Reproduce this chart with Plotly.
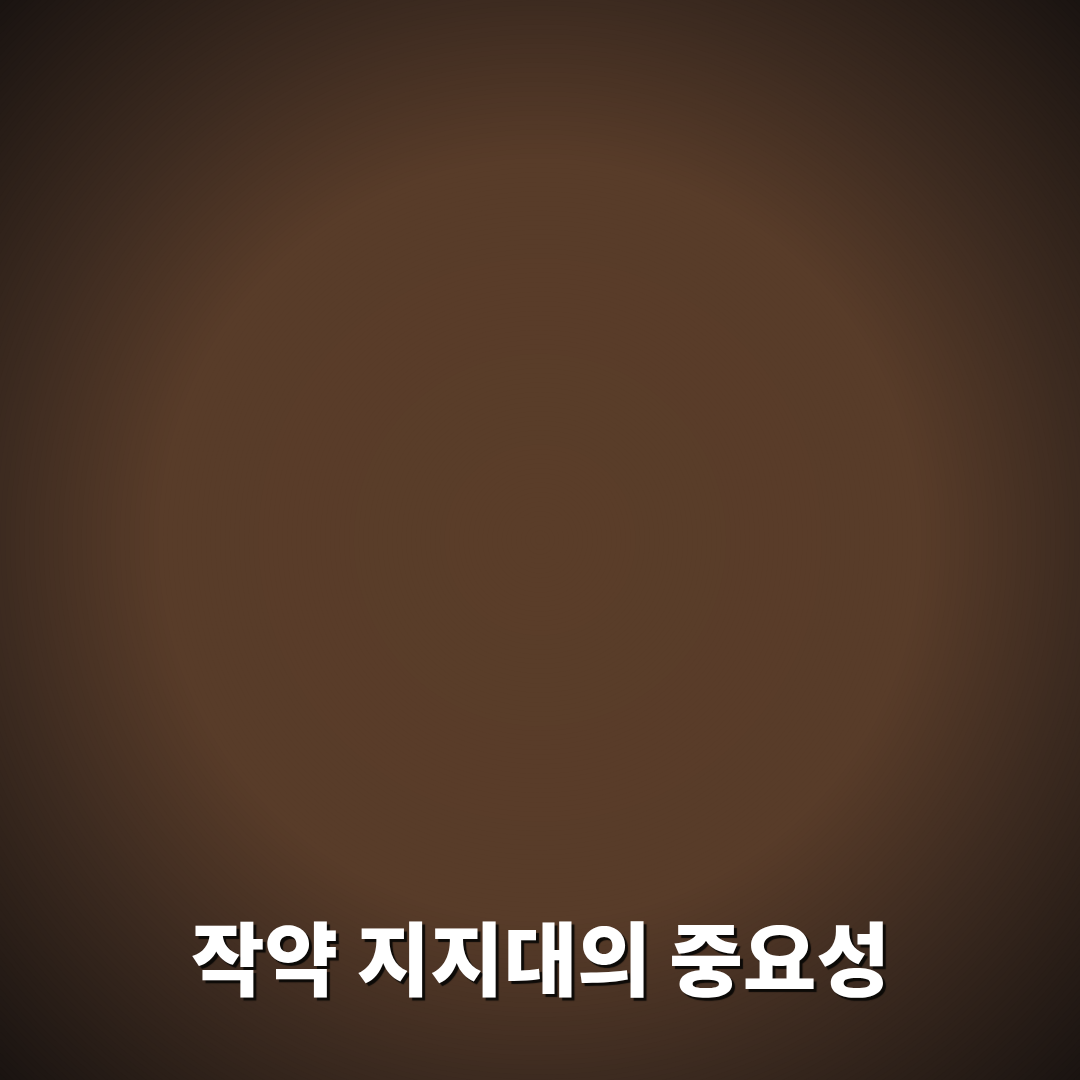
import numpy as np
import plotly.graph_objects as go

# chart text
title_text = "작약 지지대의 중요성"

# radial background stops (fraction of farthest-corner radius, colour)
bg_stops = [0.0, 0.50, 0.71, 1.0]
bg_colors = ["#5a3d29", "#583c29", "#3d2b20", "#1a1411"]

W = H = 1080
cx, cy = W / 2, H / 2
r_max = np.hypot(cx, cy)


def hex_rgb(h):
    h = h.lstrip("#")
    return np.array([int(h[i:i + 2], 16) for i in (0, 2, 4)], dtype=float)


stop_rgb = np.array([hex_rgb(c) for c in bg_colors])


def color_at(t):
    rgb = [np.interp(t, bg_stops, stop_rgb[:, k]) for k in range(3)]
    return "rgb(%d,%d,%d)" % tuple(int(round(v)) for v in rgb)


fig = go.Figure()

# concentric discs, outermost first, to fake a radial gradient
n_rings = 160
shapes = []
for i in range(n_rings, 0, -1):
    t = i / n_rings
    r = t * r_max
    shapes.append(dict(
        type="circle", xref="x", yref="y",
        x0=cx - r, x1=cx + r, y0=cy - r, y1=cy + r,
        fillcolor=color_at(t), line=dict(width=0), layer="below",
    ))

fig.add_annotation(
    x=cx, y=H - 954, xref="x", yref="y",
    text=title_text, showarrow=False,
    font=dict(family="Noto Sans CJK KR", size=80, color="white", weight=800,
              shadow="3px 3px 1px rgba(10,8,6,0.95)"),
    xanchor="center", yanchor="middle",
)

fig.update_layout(
    width=W, height=H,
    margin=dict(l=0, r=0, t=0, b=0),
    paper_bgcolor="#1a1411", plot_bgcolor="#1a1411",
    shapes=shapes, showlegend=False,
    xaxis=dict(range=[0, W], visible=False, fixedrange=True),
    yaxis=dict(range=[0, H], visible=False, fixedrange=True),
)

fig.write_html(
    "out.html",
    config={"displayModeBar": False},
    post_script="document.body.style.margin='0';document.body.style.background='#1a1411';",
)
